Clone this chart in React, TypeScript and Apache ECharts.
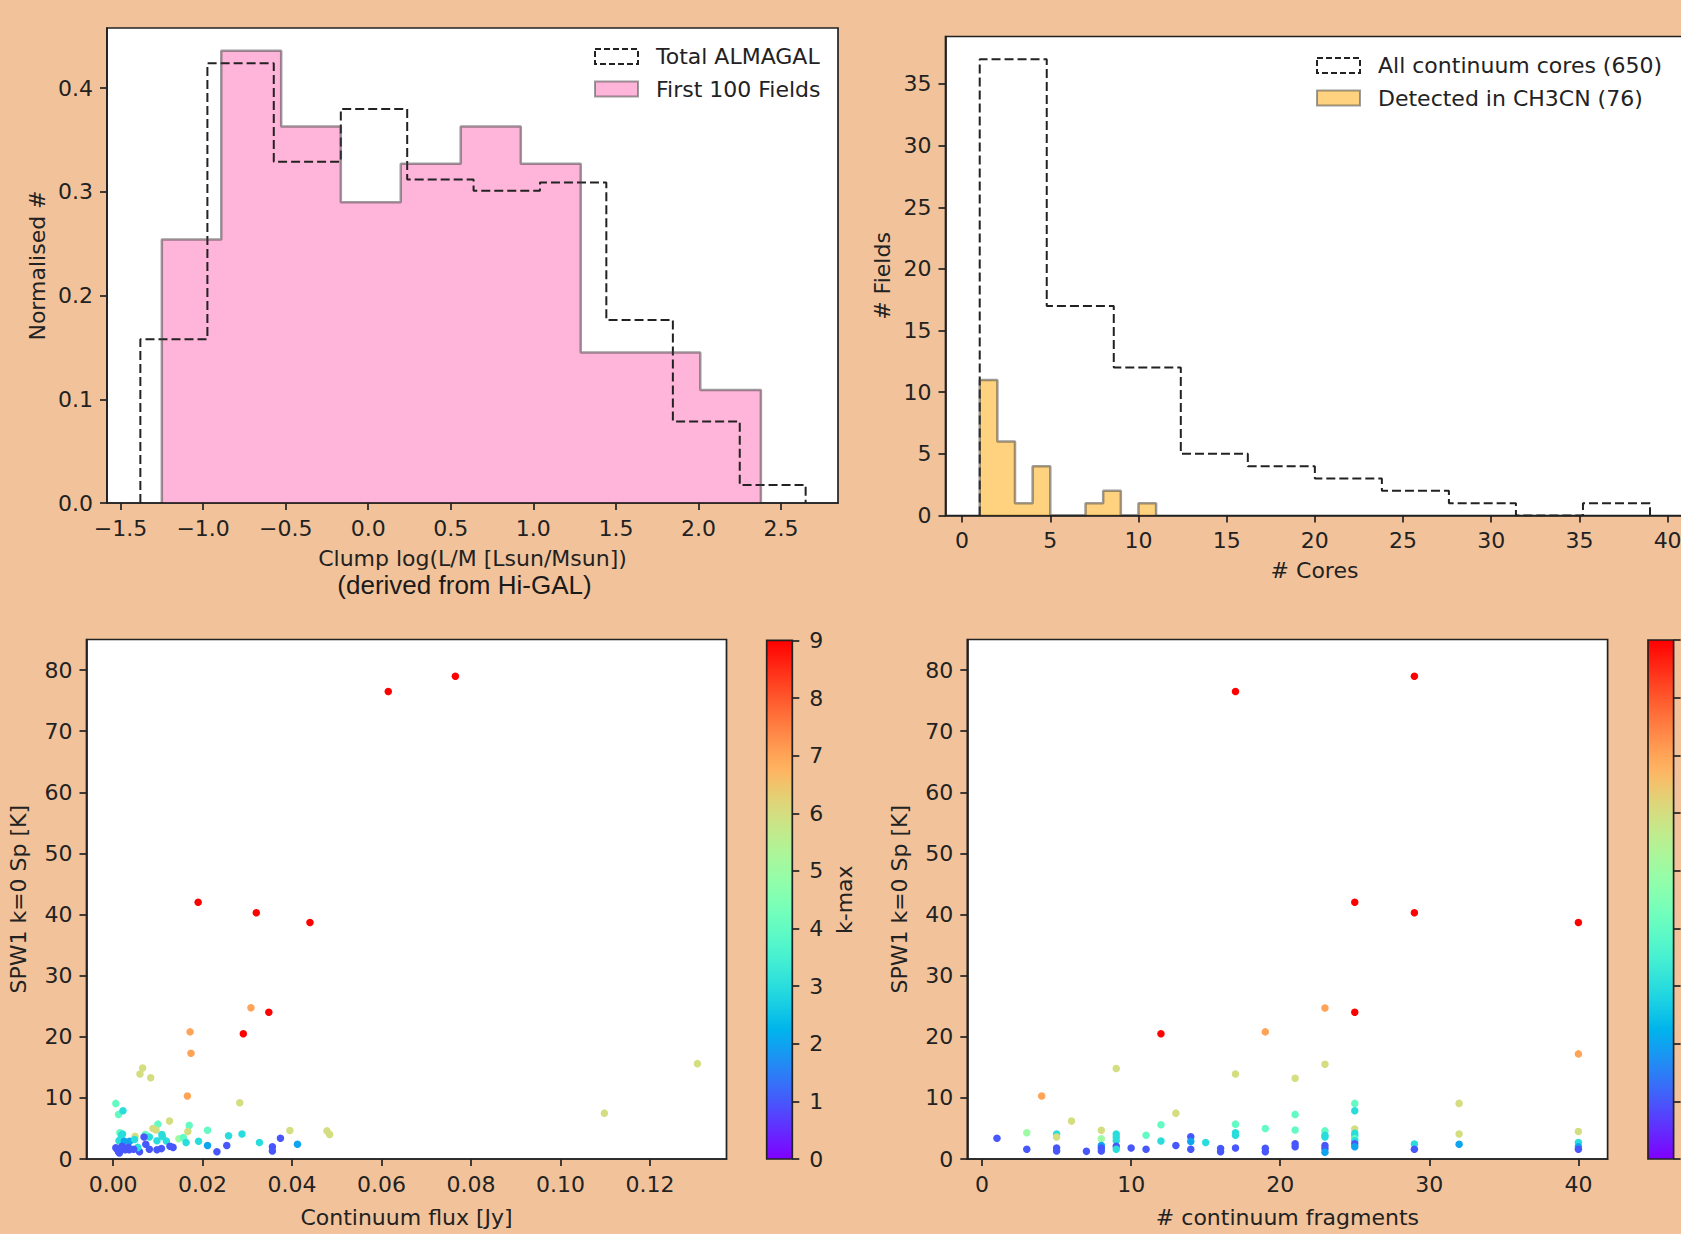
import React, { useEffect, useRef } from 'react';
import * as echarts from 'echarts';

const FONT = '"DejaVu Sans", sans-serif';
const INK = '#222222';
const BG = '#F2C39B';

// ---- Top-left: normalised histograms of clump log(L/M)
const almagalEdges = [-1.38, -0.974, -0.572, -0.166, 0.236, 0.638, 1.04, 1.442, 1.845, 2.25, 2.649];
const almagalDensity = [0.158, 0.424, 0.329, 0.38, 0.312, 0.301, 0.309, 0.1765, 0.0787, 0.0174];
const first100Edges = [-1.25, -0.89, -0.527, -0.166, 0.197, 0.56, 0.924, 1.287, 1.651, 2.011, 2.378];
const first100Density = [0.254, 0.436, 0.363, 0.29, 0.327, 0.363, 0.327, 0.145, 0.145, 0.109];
const lmTicks = [-1.5, -1.0, -0.5, 0.0, 0.5, 1.0, 1.5, 2.0, 2.5];
const densTicks = [0.0, 0.1, 0.2, 0.3, 0.4];

// ---- Top-right: number of fields vs number of cores
const coreEdges = [1, 4.8, 8.6, 12.4, 16.2, 20, 23.8, 27.6, 31.4, 35.2, 39];
const coreCounts = [37, 17, 12, 5, 4, 3, 2, 1, 0, 1];
const ch3cnEdges = [1, 2, 3, 4, 5, 6, 7, 8, 9, 10, 11];
const ch3cnCounts = [11, 6, 1, 4, 0, 0, 1, 2, 0, 1];
const coreTicks = [0, 5, 10, 15, 20, 25, 30, 35, 40];
const fieldTicks = [0, 5, 10, 15, 20, 25, 30, 35];

// ---- Bottom: SPW1 k=0 peak [K] vs continuum flux / fragments, coloured by k-max
// [continuum flux Jy, Sp K, k-max]
const fluxPoints: number[][] = [
  [0.0765, 79.0, 9], [0.0615, 76.5, 9], [0.019, 42.0, 9], [0.032, 40.3, 9], [0.044, 38.7, 9],
  [0.0308, 24.75, 7], [0.0348, 24.0, 9], [0.0291, 20.5, 9], [0.0172, 20.8, 7], [0.0174, 17.3, 7],
  [0.1306, 15.6, 6], [0.0066, 14.9, 6], [0.006, 13.9, 6], [0.0084, 13.3, 6], [0.0166, 10.3, 7],
  [0.0283, 9.2, 6], [0.1098, 7.5, 6], [0.0006, 9.1, 4], [0.0012, 7.3, 4], [0.0022, 7.9, 3],
  [0.0126, 6.2, 6], [0.01, 5.7, 4], [0.017, 5.5, 4], [0.0089, 5.0, 6], [0.0096, 4.75, 6],
  [0.0211, 4.7, 4], [0.0395, 4.65, 6], [0.0478, 4.6, 6], [0.0484, 4.0, 6], [0.0167, 4.5, 6],
  [0.0258, 3.8, 3], [0.0288, 4.1, 3], [0.0109, 4.0, 3], [0.011, 3.7, 3], [0.0374, 3.4, 1],
  [0.0072, 4.0, 4], [0.0015, 4.3, 4], [0.0021, 4.1, 3], [0.0049, 3.7, 6], [0.0081, 3.6, 3],
  [0.0147, 3.3, 5], [0.0157, 3.5, 4], [0.0191, 2.9, 3], [0.0163, 2.7, 3], [0.0327, 2.7, 3],
  [0.0211, 2.2, 2], [0.0254, 2.2, 1], [0.0232, 1.2, 1], [0.0356, 2.0, 1], [0.0356, 1.3, 1],
  [0.0412, 2.4, 2], [0.0119, 2.95, 3], [0.0098, 3.0, 3], [0.0069, 3.6, 1], [0.0073, 2.4, 1],
  [0.0081, 1.6, 1], [0.0134, 1.9, 1], [0.0127, 2.1, 1], [0.0108, 1.7, 1], [0.0098, 1.5, 1],
  [0.0059, 1.2, 1], [0.0036, 1.5, 1], [0.0037, 2.9, 2], [0.0048, 3.2, 3], [0.0055, 1.9, 3],
  [0.0017, 3.3, 3], [0.0019, 3.9, 3], [0.0013, 3.0, 3], [0.0025, 2.9, 2],
  [0.0006, 1.85, 1], [0.0012, 1.2, 1], [0.002, 2.1, 1], [0.0027, 1.5, 1], [0.0034, 1.9, 1],
  [0.0046, 1.6, 1], [0.0014, 1.0, 1], [0.0009, 1.6, 1], [0.0023, 1.8, 1],
];
// [# continuum fragments, Sp K, k-max]
const fragPoints: number[][] = [
  [17, 76.5, 9], [29, 79.0, 9], [25, 42.0, 9], [29, 40.3, 9], [40, 38.7, 9],
  [23, 24.7, 7], [25, 24.0, 9], [12, 20.5, 9], [19, 20.8, 7], [40, 17.2, 7],
  [4, 10.3, 7], [9, 14.8, 6], [17, 13.9, 6], [21, 13.2, 6], [23, 15.5, 6],
  [32, 9.1, 6], [13, 7.5, 6], [6, 6.2, 6], [25, 9.1, 4], [25, 7.9, 3], [21, 7.3, 4],
  [1, 3.4, 1], [3, 4.3, 5], [3, 1.6, 1], [5, 4.1, 3], [5, 3.6, 6], [5, 1.8, 1], [5, 1.3, 1],
  [7, 1.25, 1], [8, 4.7, 6], [8, 3.3, 5], [8, 2.2, 2], [8, 1.8, 1], [8, 1.3, 1],
  [9, 4.1, 3], [9, 3.55, 3], [9, 3.0, 3], [9, 2.1, 1], [9, 1.6, 3], [10, 1.8, 1],
  [11, 3.9, 4], [11, 1.6, 1], [12, 5.6, 4], [12, 2.95, 3], [13, 2.2, 1],
  [14, 3.65, 1], [14, 2.85, 2], [14, 1.6, 1], [15, 2.7, 3], [16, 1.7, 1], [16, 1.2, 1],
  [17, 5.7, 4], [17, 4.3, 3], [17, 3.9, 3], [17, 1.8, 1],
  [19, 5.0, 4], [19, 1.75, 1], [19, 1.2, 1],
  [21, 4.75, 4], [21, 2.5, 1], [21, 2.0, 1],
  [23, 4.6, 4], [23, 3.9, 3], [23, 3.6, 3], [23, 2.2, 1], [23, 1.7, 1], [23, 1.1, 2],
  [25, 4.9, 6], [25, 4.2, 3], [25, 3.8, 3], [25, 3.3, 4], [25, 3.0, 3], [25, 2.5, 1], [25, 2.0, 2],
  [29, 2.45, 3], [29, 1.6, 1], [32, 4.1, 6], [32, 2.4, 2],
  [40, 4.5, 6], [40, 2.7, 3], [40, 2.0, 2], [40, 1.6, 1],
];
const fluxTicks = [0, 0.02, 0.04, 0.06, 0.08, 0.1, 0.12];
const fragTicks = [0, 10, 20, 30, 40];
const spTicks = [0, 10, 20, 30, 40, 50, 60, 70, 80];
const kTicks = [0, 1, 2, 3, 4, 5, 6, 7, 8, 9];

// matplotlib "rainbow" colormap
function rainbow(t: number): string {
  const c = (v: number) => Math.round(Math.max(0, Math.min(1, v)) * 255);
  const r = Math.abs(2 * t - 0.5);
  const g = Math.sin(Math.PI * t);
  const b = Math.cos((Math.PI * t) / 2);
  return `rgb(${c(r)},${c(g)},${c(b)})`;
}

function stepOutline(edges: number[], heights: number[]): number[][] {
  const pts: number[][] = [[edges[0], 0]];
  for (let i = 0; i < heights.length; i++) {
    pts.push([edges[i], heights[i]]);
    pts.push([edges[i + 1], heights[i]]);
  }
  pts.push([edges[edges.length - 1], 0]);
  return pts;
}

const FS = 22;
const labelStyle = { color: INK, fontSize: FS, fontFamily: FONT };

function axis(o: {
  grid: number; min: number; max: number; ticks: number[];
  fmt: (v: number) => string; name?: string; gap?: number; pos?: string; line?: boolean; margin?: number;
  labels?: boolean;
}): any {
  return {
    type: 'value',
    gridIndex: o.grid,
    min: o.min,
    max: o.max,
    position: o.pos,
    z: 10,
    axisLine: { show: o.line !== false, onZero: false, lineStyle: { color: INK, width: 1.7 } },
    axisTick: { show: true, length: 7, lineStyle: { color: INK, width: 1.7 }, customValues: o.ticks },
    axisLabel: {
      show: o.labels !== false, customValues: o.ticks, formatter: o.fmt, margin: o.margin ?? 14, hideOverlap: false,
      ...labelStyle,
    },
    splitLine: { show: false },
    name: o.name,
    nameLocation: 'middle',
    nameGap: o.gap,
    nameTextStyle: { ...labelStyle },
  };
}

const signed1 = (v: number) => (v < 0 ? '\u2212' : '') + Math.abs(v).toFixed(1);
const int = (v: number) => String(Math.round(v));
const fix2 = (v: number) => v.toFixed(2);

function colorbarGradient() {
  const stops = [];
  for (let i = 0; i <= 36; i++) {
    const t = i / 36;
    stops.push({ offset: t, color: rainbow(t) });
  }
  return new echarts.graphic.LinearGradient(0, 1, 0, 0, stops);
}

function colorbarSeries(idx: number): any {
  return {
    type: 'custom',
    xAxisIndex: idx,
    yAxisIndex: idx,
    silent: true,
    clip: false,
    data: [[0, kTicks[0], kTicks[kTicks.length - 1]]],
    renderItem: (_p: any, api: any) => {
      const lo = api.coord([0, api.value(1)]);
      const hi = api.coord([1, api.value(2)]);
      return {
        type: 'rect',
        shape: { x: lo[0], y: hi[1], width: hi[0] - lo[0], height: lo[1] - hi[1] },
        style: { fill: colorbarGradient(), stroke: INK, lineWidth: 1.7 },
      };
    },
  };
}

function legendEntry(x: number, y: number, text: string, fill: string, stroke: string, dashed: boolean): any[] {
  return [
    {
      type: 'rect',
      shape: { x, y: y - 7.5, width: 43, height: 15 },
      style: { fill, stroke, lineWidth: 2, lineDash: dashed ? [6, 3] : null },
      z: 20,
    },
    {
      type: 'text',
      x: x + 61,
      y,
      style: { text, fontSize: FS, fontFamily: FONT, fill: INK, align: 'left', verticalAlign: 'middle' },
      z: 20,
    },
  ];
}

const PINK = 'rgba(255,105,180,0.5)';
const ORANGE = 'rgba(255,165,0,0.5)';
const EDGE = 'rgba(60,60,60,0.5)';

export default function App() {
  const ref = useRef<HTMLDivElement>(null);
  useEffect(() => {
    const chart = echarts.init(ref.current!, null, { renderer: 'svg' });
    const gridBox = {
      show: true, backgroundColor: '#ffffff', borderColor: INK, borderWidth: 1.7,
      containLabel: false, outerBoundsMode: 'none',
    };
    const cbBox = { show: false, containLabel: false, outerBoundsMode: 'none' };
    chart.setOption({
      animation: false,
      backgroundColor: BG,
      textStyle: { fontFamily: FONT },
      grid: [
        { ...gridBox, left: 107, top: 28, width: 731, height: 475 },
        { ...gridBox, left: 945.5, top: 36.5, width: 738, height: 479 },
        { ...gridBox, left: 86.5, top: 639.5, width: 640, height: 519.5 },
        { ...gridBox, left: 967.3, top: 639.5, width: 640.3, height: 519.5 },
        { ...cbBox, left: 766.7, top: 640.4, width: 25.6, height: 518.6 },
        { ...cbBox, left: 1648, top: 640, width: 25.6, height: 519 },
      ],
      xAxis: [
        axis({ grid: 0, min: -1.582, max: 2.845, ticks: lmTicks, fmt: signed1, name: 'Clump log(L/M [Lsun/Msun])', gap: 44 }),
        axis({ grid: 1, min: -0.94, max: 40.9, ticks: coreTicks, fmt: int, name: '# Cores', gap: 44 }),
        axis({ grid: 2, min: -0.00595, max: 0.1371, ticks: fluxTicks, fmt: fix2, name: 'Continuum flux [Jy]', gap: 47 }),
        axis({ grid: 3, min: -0.99, max: 41.96, ticks: fragTicks, fmt: int, name: '# continuum fragments', gap: 47 }),
        { type: 'value', gridIndex: 4, min: 0, max: 1, show: false },
        { type: 'value', gridIndex: 5, min: 0, max: 1, show: false },
      ],
      yAxis: [
        axis({ grid: 0, min: 0, max: 0.458, ticks: densTicks, fmt: (v) => v.toFixed(1), name: 'Normalised #', gap: 59 }),
        axis({ grid: 1, min: 0, max: 38.85, ticks: fieldTicks, fmt: int, name: '# Fields', gap: 52 }),
        axis({ grid: 2, min: 0, max: 85, ticks: spTicks, fmt: int, name: 'SPW1 k=0 Sp [K]', gap: 57 }),
        axis({ grid: 3, min: 0, max: 85, ticks: spTicks, fmt: int, name: 'SPW1 k=0 Sp [K]', gap: 57 }),
        axis({ grid: 4, min: 0, max: 9, ticks: kTicks, fmt: int, name: 'k-max', gap: 41, pos: 'right', line: false, margin: 17 }),
        axis({ grid: 5, min: 0, max: 9, ticks: kTicks, fmt: int, pos: 'right', line: false, margin: 17, labels: false }),
      ],
      series: [
        {
          name: 'Total ALMAGAL', type: 'line', xAxisIndex: 0, yAxisIndex: 0, symbol: 'none', silent: true,
          data: stepOutline(almagalEdges, almagalDensity),
          lineStyle: { color: INK, width: 2, type: [9, 4] },
        },
        {
          name: 'First 100 Fields', type: 'line', xAxisIndex: 0, yAxisIndex: 0, symbol: 'none', silent: true,
          data: stepOutline(first100Edges, first100Density),
          lineStyle: { color: EDGE, width: 2.5 },
          areaStyle: { color: PINK, opacity: 1 },
        },
        {
          name: 'All continuum cores (650)', type: 'line', xAxisIndex: 1, yAxisIndex: 1, symbol: 'none', silent: true,
          data: stepOutline(coreEdges, coreCounts),
          lineStyle: { color: INK, width: 2, type: [9, 4] },
        },
        {
          name: 'Detected in CH3CN (76)', type: 'line', xAxisIndex: 1, yAxisIndex: 1, symbol: 'none', silent: true,
          data: stepOutline(ch3cnEdges, ch3cnCounts),
          lineStyle: { color: EDGE, width: 2.5 },
          areaStyle: { color: ORANGE, opacity: 1 },
        },
        {
          name: 'flux', type: 'scatter', xAxisIndex: 2, yAxisIndex: 2, symbolSize: 7.5, silent: true,
          data: fluxPoints,
          itemStyle: { color: (p: any) => rainbow(p.value[2] / 9), opacity: 1 },
        },
        {
          name: 'fragments', type: 'scatter', xAxisIndex: 3, yAxisIndex: 3, symbolSize: 7.5, silent: true,
          data: fragPoints,
          itemStyle: { color: (p: any) => rainbow(p.value[2] / 9), opacity: 1 },
        },
        colorbarSeries(4),
        colorbarSeries(5),
      ],
      graphic: [
        ...legendEntry(595, 56.5, 'Total ALMAGAL', 'rgba(0,0,0,0)', INK, true),
        ...legendEntry(595, 89, 'First 100 Fields', PINK, EDGE, false),
        ...legendEntry(1317, 65.5, 'All continuum cores (650)', 'rgba(0,0,0,0)', INK, true),
        ...legendEntry(1317, 98, 'Detected in CH3CN (76)', ORANGE, EDGE, false),
        {
          type: 'text', x: 464.5, y: 585, z: 20,
          style: {
            text: '(derived from Hi-GAL)', fontSize: 26, fontFamily: '"Liberation Sans", Arial, sans-serif',
            fill: '#1a1a1a', align: 'center', verticalAlign: 'middle',
          },
        },
      ],
    });
    return () => chart.dispose();
  }, []);
  return <div ref={ref} style={{ position: 'absolute', left: 0, top: 0, width: 1681, height: 1234 }} />;
}
